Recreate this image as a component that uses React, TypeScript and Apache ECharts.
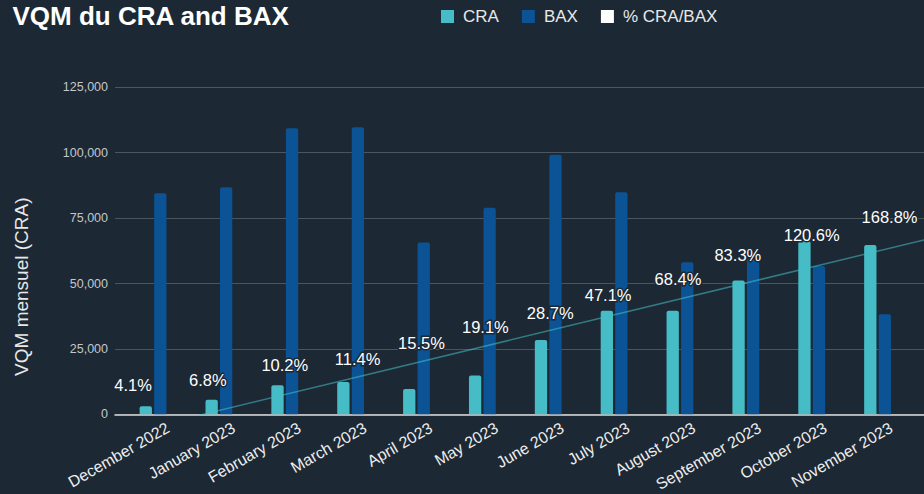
import React, { useEffect, useRef } from 'react';
import * as echarts from 'echarts';

// ---- data ----
const categories = [
  'December 2022', 'January 2023', 'February 2023', 'March 2023', 'April 2023', 'May 2023',
  'June 2023', 'July 2023', 'August 2023', 'September 2023', 'October 2023', 'November 2023',
];
const craValues = [3100, 5600, 11100, 12300, 9700, 14800, 28400, 39600, 39600, 51100, 66200, 64700];
const baxValues = [84500, 86800, 109300, 109700, 65700, 79000, 99200, 84900, 58100, 59400, 56700, 38200];
const pctValues = [4.1, 6.8, 10.2, 11.4, 15.5, 19.1, 28.7, 47.1, 68.4, 83.3, 120.6, 168.8];
const yMin = 0;
const yMax = 125000;
const yInterval = 25000;

// ---- layout / style ----
const W = 924;
const H = 494;
const BG = '#1c2834';
const CRA_COLOR = '#46bdc6';
const BAX_COLOR = '#0b5394';
const PLOT_TOP = 87.3;
const PLOT_BOTTOM = 414.3;
const BAR_LEFT = 120.1;
const BAR_RIGHT = 910.5;
const GRID_LEFT = 115;
const GRID_RIGHT = 924;
const LABEL_SHIFT = 15;
const FONT = "'Liberation Sans', Arial, Helvetica, sans-serif";
// label placement offsets (px) relative to the top of each CRA bar
const pctLabelOffsets = [
  [-20, -21], [-11, -20], [0, -20], [7, -23], [5, -46], [3, -49],
  [2, -27], [-6, -16], [-2, -32], [-8, -26], [0, -6], [12, -28],
];

export default function App() {
  const ref = useRef<HTMLDivElement>(null);

  useEffect(() => {
    document.body.style.margin = '0';
    document.body.style.background = BG;
    const chart = echarts.init(ref.current as HTMLDivElement, null, { renderer: 'svg' });

    const n = categories.length;
    const catW = (BAR_RIGHT - BAR_LEFT) / n;
    // linear trendline of CRA (least squares)
    const xs = craValues.map((_, i) => i);
    const mx = xs.reduce((a, b) => a + b, 0) / n;
    const my = craValues.reduce((a, b) => a + b, 0) / n;
    let sxy = 0;
    let sxx = 0;
    xs.forEach((x, i) => {
      sxy += (x - mx) * (craValues[i] - my);
      sxx += (x - mx) * (x - mx);
    });
    const slope = sxy / sxx;
    const intercept = my - slope * mx;
    const xMin = -0.5 - (BAR_LEFT - GRID_LEFT) / catW;
    const xMax = n - 0.5 + (GRID_RIGHT - BAR_RIGHT) / catW;
    const trend = [
      [xMin, intercept + slope * xMin],
      [xMax, intercept + slope * xMax],
    ];

    const plotHeight = PLOT_BOTTOM - PLOT_TOP;

    chart.setOption({
      animation: false,
      backgroundColor: BG,
      textStyle: { fontFamily: FONT },
      title: {
        text: 'VQM du CRA and BAX',
        left: 12.5,
        top: 3,
        padding: 0,
        textStyle: { color: '#ffffff', fontSize: 26, fontWeight: 'bold', fontFamily: FONT },
      },
      legend: {
        data: [
          { name: 'CRA' },
          { name: 'BAX' },
          { name: '% CRA/BAX', itemStyle: { color: '#ffffff', opacity: 1 } },
        ],
        icon: 'rect',
        itemWidth: 13,
        itemHeight: 13,
        itemGap: 23,
        left: 441,
        top: 8,
        padding: 0,
        selectedMode: false,
        textStyle: { color: '#e8e8e8', fontSize: 17, fontFamily: FONT, padding: [0, 0, 0, 4] },
      },
      graphic: [
        {
          type: 'text',
          x: 21,
          y: 286.7,
          rotation: Math.PI / 2,
          style: {
            text: 'VQM mensuel (CRA)',
            fill: '#e8e8e8',
            font: `19px ${FONT}`,
            textAlign: 'center',
            textVerticalAlign: 'middle',
          },
        },
      ],
      grid: [
        { left: BAR_LEFT, width: BAR_RIGHT - BAR_LEFT, top: PLOT_TOP, height: plotHeight },
        { left: GRID_LEFT, width: GRID_RIGHT - GRID_LEFT, top: PLOT_TOP, height: plotHeight },
        { left: BAR_LEFT + LABEL_SHIFT, width: BAR_RIGHT - BAR_LEFT, top: PLOT_TOP, height: plotHeight },
      ],
      xAxis: [
        {
          gridIndex: 0,
          type: 'category',
          data: categories,
          axisLine: { show: false },
          axisTick: { show: false },
          axisLabel: { show: false },
          splitLine: { show: false },
        },
        {
          gridIndex: 1,
          type: 'value',
          min: xMin,
          max: xMax,
          axisLine: { show: true, lineStyle: { color: '#dcdcdc', width: 1.5 } },
          axisTick: { show: false },
          axisLabel: { show: false },
          splitLine: { show: false },
        },
        {
          gridIndex: 2,
          type: 'category',
          data: categories,
          axisLine: { show: false },
          axisTick: { show: false },
          splitLine: { show: false },
          axisLabel: {
            show: true,
            interval: 0,
            rotate: 30,
            margin: 19,
            color: '#eeeeee',
            fontSize: 16,
            fontFamily: FONT,
          },
        },
      ],
      yAxis: [
        {
          gridIndex: 0,
          type: 'value',
          min: yMin,
          max: yMax,
          interval: yInterval,
          show: false,
          splitLine: { show: false },
        },
        {
          gridIndex: 1,
          type: 'value',
          min: yMin,
          max: yMax,
          interval: yInterval,
          axisLine: { show: false },
          axisTick: { show: false },
          axisLabel: {
            margin: 7,
            color: '#c3c7cb',
            fontSize: 12.5,
            fontFamily: FONT,
            formatter: (v: number) => v.toLocaleString('en-US'),
          },
          splitLine: { show: true, lineStyle: { color: '#4a5560', width: 1 } },
        },
        {
          gridIndex: 2,
          type: 'value',
          min: 0,
          max: 1,
          show: false,
          splitLine: { show: false },
        },
      ],
      series: [
        {
          name: 'CRA',
          type: 'bar',
          xAxisIndex: 0,
          yAxisIndex: 0,
          data: craValues,
          barWidth: 12.3,
          barGap: '18%',
          itemStyle: { color: CRA_COLOR, borderRadius: [2, 2, 0, 0] },
          z: 2,
        },
        {
          name: 'BAX',
          type: 'bar',
          xAxisIndex: 0,
          yAxisIndex: 0,
          data: baxValues,
          barWidth: 12.3,
          barGap: '18%',
          itemStyle: { color: BAX_COLOR, borderRadius: [2, 2, 0, 0] },
          z: 2,
        },
        {
          name: 'Trend',
          type: 'line',
          xAxisIndex: 1,
          yAxisIndex: 1,
          data: trend,
          showSymbol: false,
          symbol: 'none',
          clip: true,
          silent: true,
          lineStyle: { color: 'rgba(70,189,198,0.55)', width: 1.5 },
          z: 5,
        },
        {
          name: '% CRA/BAX',
          type: 'scatter',
          xAxisIndex: 0,
          yAxisIndex: 0,
          symbolSize: 0,
          itemStyle: { color: '#ffffff', opacity: 1 },
          data: craValues.map((v, i) => ({
            value: [i, v],
            label: { offset: pctLabelOffsets[i] },
          })),
          label: {
            show: true,
            position: 'inside',
            formatter: (p: any) => `${pctValues[p.dataIndex].toFixed(1)}%`,
            color: '#ffffff',
            opacity: 1,
            fontSize: 16.5,
            fontFamily: FONT,
            textBorderColor: BG,
            textBorderWidth: 3,
          },
          z: 10,
        },
      ],
    });

    return () => {
      chart.dispose();
    };
  }, []);

  return <div ref={ref} style={{ width: W, height: H }} />;
}
